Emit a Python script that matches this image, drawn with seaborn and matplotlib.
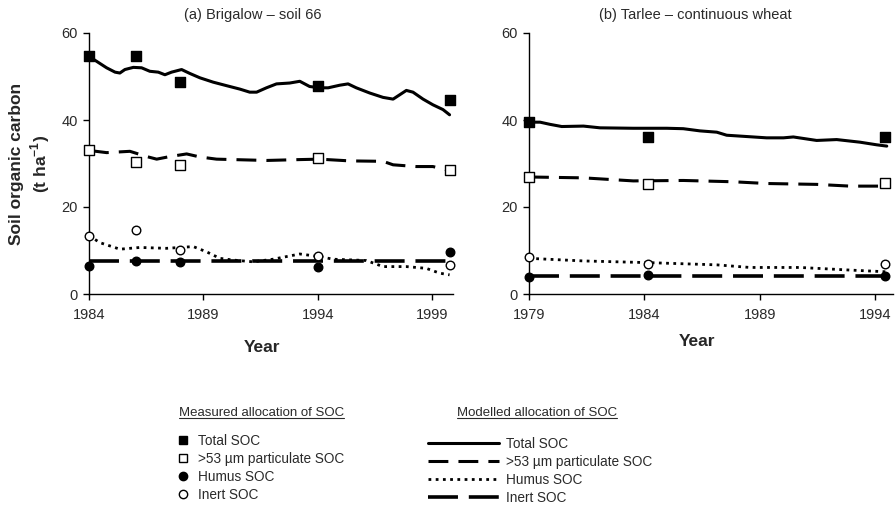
import matplotlib
matplotlib.use("Agg")
import matplotlib.pyplot as plt
from matplotlib.lines import Line2D
import seaborn as sns

# ---- panel (a) Brigalow - soil 66 ----
a_meas_year = [1984.0, 1986.05, 1988.0, 1994.0, 1999.8]
a_meas_total = [54.6, 54.6, 48.7, 47.9, 44.7]
a_meas_part = [33.0, 30.3, 29.7, 31.2, 28.4]
a_meas_humus = [6.5, 7.7, 7.3, 6.1, 9.6]
a_meas_inert = [13.4, 14.6, 10.1, 8.7, 6.7]

a_mod_total_year = [1984.0, 1984.33, 1984.77, 1985.14, 1985.35, 1985.57, 1985.94, 1986.3,
                    1986.66, 1987.03, 1987.32, 1987.61, 1988.05, 1988.41, 1988.85, 1989.43,
                    1990.01, 1990.6, 1991.03, 1991.33, 1991.76, 1992.2, 1992.78, 1993.22,
                    1993.65, 1994.09, 1994.46, 1994.97, 1995.33, 1995.69, 1996.28, 1996.86,
                    1997.3, 1997.59, 1997.88, 1998.17, 1998.61, 1999.04, 1999.48, 1999.77]
a_mod_total = [54.6, 53.5, 52.0, 51.0, 50.8, 51.6, 52.1, 52.0, 51.2, 51.0,
               50.4, 51.0, 51.6, 50.7, 49.7, 48.7, 47.9, 47.1, 46.4, 46.4,
               47.4, 48.3, 48.5, 48.9, 47.7, 47.4, 47.4, 48.0, 48.3, 47.4,
               46.2, 45.2, 44.8, 45.8, 46.8, 46.4, 44.8, 43.5, 42.4, 41.2]

a_mod_part_year = [1984.0, 1984.77, 1985.79, 1986.52, 1986.96, 1987.54, 1988.27, 1988.85,
                   1989.58, 1990.31, 1991.76, 1993.22, 1994.09, 1995.4, 1996.86, 1997.3,
                   1998.31, 1999.04, 1999.77]
a_mod_part = [33.0, 32.5, 32.8, 31.6, 31.0, 31.6, 32.2, 31.5, 31.0, 30.9,
              30.7, 30.9, 31.0, 30.6, 30.5, 29.7, 29.3, 29.3, 28.4]

a_mod_humus_year = [1984.0, 1984.48, 1985.35, 1986.23, 1987.39, 1988.56, 1989.14, 1989.72,
                    1990.31, 1991.18, 1992.05, 1993.22, 1994.09, 1994.67, 1996.13, 1996.86,
                    1997.88, 1998.75, 1999.33, 1999.77]
a_mod_humus = [13.4, 11.8, 10.3, 10.7, 10.5, 10.9, 9.7, 8.2, 7.8, 7.4,
               8.0, 9.2, 8.6, 8.0, 7.7, 6.3, 6.3, 5.9, 4.8, 4.4]

a_mod_inert_year = [1984.0, 1999.77]
a_mod_inert = [7.7, 7.7]

# ---- panel (b) Tarlee - continuous wheat ----
b_meas_year = [1979.0, 1984.14, 1994.43]
b_meas_total = [39.5, 36.1, 36.1]
b_meas_part = [26.9, 25.2, 25.6]
b_meas_humus = [4.0, 4.3, 4.1]
b_meas_inert = [8.6, 7.0, 7.0]

b_mod_total_year = [1979.0, 1979.48, 1979.91, 1980.42, 1981.36, 1982.08, 1983.52, 1984.97,
                    1985.69, 1986.41, 1987.14, 1987.57, 1988.15, 1989.3, 1990.03, 1990.46,
                    1991.47, 1992.34, 1993.35, 1994.07, 1994.51]
b_mod_total = [39.5, 39.5, 39.0, 38.5, 38.6, 38.2, 38.1, 38.1, 38.0, 37.5,
               37.2, 36.5, 36.3, 35.9, 35.9, 36.1, 35.3, 35.5, 34.9, 34.3, 34.0]

b_mod_part_year = [1979.0, 1981.36, 1983.52, 1985.69, 1987.86, 1989.3, 1991.47, 1992.92, 1994.51]
b_mod_part = [26.9, 26.7, 26.0, 26.1, 25.8, 25.4, 25.2, 24.8, 24.8]

b_mod_humus_year = [1979.0, 1981.36, 1984.25, 1987.14, 1988.58, 1990.75, 1992.92, 1994.51]
b_mod_humus = [8.2, 7.6, 7.2, 6.7, 6.1, 6.1, 5.5, 5.1]

b_mod_inert_year = [1979.0, 1994.51]
b_mod_inert = [4.1, 4.1]

a_ticks = [1984, 1989, 1994, 1999]
b_ticks = [1979, 1984, 1989, 1994]
y_ticks = [0, 20, 40, 60]

series_labels = ["Total SOC", ">53 µm particulate SOC", "Humus SOC", "Inert SOC"]

# line styles: (linewidth, linestyle)
line_styles = [
    (2.2, "-"),
    (2.2, (0, (6.5, 3.3))),
    (2.0, (0, (1, 1.6))),
    (2.6, (0, (8.3, 3.0))),
]
# marker styles: (marker, facecolor)
marker_styles = [("s", "black"), ("s", "white"), ("o", "black"), ("o", "white")]

sns.set_theme(style="white")
plt.rcParams["font.family"] = ["Liberation Sans", "DejaVu Sans"]
plt.rcParams["mathtext.fontset"] = "custom"
plt.rcParams["mathtext.rm"] = "Liberation Sans"
plt.rcParams["mathtext.bf"] = "Liberation Sans:bold"

W, H = 896, 507
fig = plt.figure(figsize=(W / 100, H / 100), dpi=100)


def fx(px):
    return px / W


def fy(py):
    return 1 - py / H


def draw_panel(ax, mod_years, mod_vals, meas_year, meas_vals, xlim, ticks):
    for (lw, ls), x, y in zip(line_styles, mod_years, mod_vals):
        sns.lineplot(x=x, y=y, ax=ax, color="black", linewidth=lw, linestyle=ls,
                     estimator=None, sort=False)
    for (mk, fc), y in zip(marker_styles, meas_vals):
        sns.scatterplot(x=meas_year, y=y, ax=ax, marker=mk, s=42 if mk == "s" else 38,
                        color=fc, edgecolor="black", linewidth=1.0, zorder=5, clip_on=False)
    ax.set_xlim(*xlim)
    ax.set_ylim(0, 60)
    ax.set_xticks(ticks)
    ax.set_yticks(y_ticks)
    sns.despine(ax=ax)
    for s in ["left", "bottom"]:
        ax.spines[s].set_color("black")
        ax.spines[s].set_linewidth(1.0)
    ax.tick_params(axis="both", direction="out", length=4, width=1.0, color="black",
                   labelsize=10.5, labelcolor="#2a2a2a", left=True, bottom=True)
    ax.tick_params(axis="x", pad=6)
    ax.tick_params(axis="y", pad=4)
    ax.set_xlabel("")
    ax.set_ylabel("")


ax_a = fig.add_axes([fx(89), fy(294), fx(453 - 89), (294 - 33) / H])
ax_b = fig.add_axes([fx(529), fy(294), fx(893 - 529), (294 - 33) / H])

draw_panel(ax_a,
           [a_mod_total_year, a_mod_part_year, a_mod_humus_year, a_mod_inert_year],
           [a_mod_total, a_mod_part, a_mod_humus, a_mod_inert],
           a_meas_year,
           [a_meas_total, a_meas_part, a_meas_humus, a_meas_inert],
           (1984, 1999.92), a_ticks)
draw_panel(ax_b,
           [b_mod_total_year, b_mod_part_year, b_mod_humus_year, b_mod_inert_year],
           [b_mod_total, b_mod_part, b_mod_humus, b_mod_inert],
           b_meas_year,
           [b_meas_total, b_meas_part, b_meas_humus, b_meas_inert],
           (1979, 1994.78), b_ticks)

# titles and axis labels
fig.text(fx(253), fy(15), "(a) Brigalow – soil 66", ha="center", va="center",
         fontsize=10.5, color="#2a2a2a")
fig.text(fx(695), fy(15), "(b) Tarlee – continuous wheat", ha="center", va="center",
         fontsize=10.5, color="#2a2a2a")
fig.text(fx(262), fy(347), "Year", ha="center", va="center", fontsize=12.5,
         fontweight="bold")
fig.text(fx(697), fy(341), "Year", ha="center", va="center", fontsize=12.5,
         fontweight="bold")
fig.text(fx(17), fy(164), "Soil organic carbon", ha="center", va="center",
         rotation=90, fontsize=12.5, fontweight="bold")
fig.text(fx(40), fy(164), r"(t ha$^{\mathbf{-1}}$)", ha="center", va="center",
         rotation=90, fontsize=12.5, fontweight="bold")

# legends
meas_handles = [Line2D([], [], linestyle="none", marker=mk, markersize=6,
                       markerfacecolor=fc, markeredgecolor="black", markeredgewidth=1.0)
                for mk, fc in marker_styles]
mod_handles = [Line2D([], [], color="black", linewidth=lw, linestyle=ls)
               for lw, ls in line_styles]

leg1 = fig.legend(meas_handles, series_labels, loc="upper left",
                  bbox_to_anchor=(fx(176), fy(434)), frameon=False, fontsize=9.8,
                  handlelength=1.0, handletextpad=0.6, labelspacing=0.3,
                  borderpad=0, borderaxespad=0)
leg2 = fig.legend(mod_handles, series_labels, loc="upper left",
                  bbox_to_anchor=(fx(428), fy(437)), frameon=False, fontsize=9.8,
                  handlelength=5.2, handletextpad=0.5, labelspacing=0.3,
                  borderpad=0, borderaxespad=0)
for leg in (leg1, leg2):
    for t in leg.get_texts():
        t.set_color("#2a2a2a")

t1 = fig.text(fx(179), fy(413), "Measured allocation of SOC", ha="left", va="center",
              fontsize=9.5, color="#2a2a2a")
t2 = fig.text(fx(457), fy(413), "Modelled allocation of SOC", ha="left", va="center",
              fontsize=9.5, color="#2a2a2a")

# underline the legend headings
fig.canvas.draw()
renderer = fig.canvas.get_renderer()
for t in (t1, t2):
    bb = t.get_window_extent(renderer).transformed(fig.transFigure.inverted())
    fig.add_artist(Line2D([bb.x0, bb.x1], [bb.y0 + 0.002, bb.y0 + 0.002],
                          transform=fig.transFigure, color="#2a2a2a", linewidth=0.8))

fig.savefig("out.png", dpi=100, facecolor="white")
